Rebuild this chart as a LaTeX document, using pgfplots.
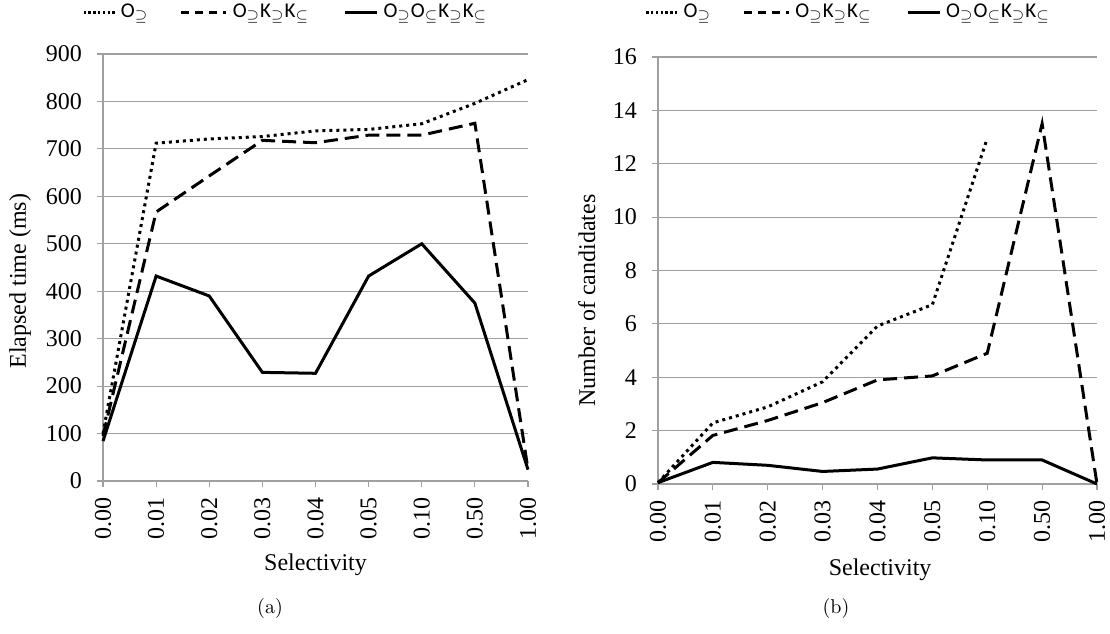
\documentclass[border=0pt]{standalone}
\usepackage{pgfplots}
\pgfplotsset{compat=1.18}
\usepackage{pgfplotstable}
\usepackage{fontspec}
\newfontfamily\tnr{Liberation Serif}
\newfontfamily\calib{Carlito}
\definecolor{gridgray}{HTML}{A0A0A0}

\pgfplotstableread{
x t1 t2 t3
0 100 95 84
1 712 567 432
2 721 643 390
3 726 718 229
4 738 713 227
5 741 729 432
6 753 729 500
7 796 754 375
8 846 24 24
}\timedata

\pgfplotstableread{
x c1
0 0.05
1 2.29
2 2.89
3 3.83
4 5.92
5 6.72
6 12.95
}\candA
\pgfplotstableread{
x c2 c3
0 0.05 0.05
1 1.82 0.81
2 2.38 0.70
3 3.05 0.47
4 3.90 0.56
5 4.05 0.98
6 4.90 0.90
7 13.50 0.90
8 0.00 0.00
}\candB

\pgfplotsset{
  excel/.style={
    scale only axis,
    axis lines*=left,
    axis line style={draw=gridgray, line width=0.6pt},
    tick style={draw=gridgray, line width=0.6pt},
    tick align=outside,
    major tick length=3pt,
    xmin=0, xmax=8,
    xtick={0,...,8},
    xticklabels={0.00,0.01,0.02,0.03,0.04,0.05,0.10,0.50,1.00},
    x tick label style={rotate=90, anchor=east, font=\tnr\fontsize{12}{12}\selectfont},
    y tick label style={font=\tnr\fontsize{12}{12}\selectfont},
    xticklabel shift=1.5pt,
    yticklabel shift=4pt,
    /pgf/number format/assume math mode=true,
    ymajorgrids,
    grid style={draw=gridgray, line width=0.6pt},
    clip=false,
    label style={font=\tnr\fontsize{12}{14}\selectfont},
    legend cell align=left,
    legend columns=3,
    legend style={draw=none, fill=none, inner sep=0pt, outer sep=0pt,
      font=\calib\fontsize{10.5}{12}\selectfont,
      nodes={inner sep=0pt},
      /tikz/every odd column/.append style={column sep=2.5pt}},
  },
  dotsty/.style={black, line width=1.5pt, dash pattern=on 1.5pt off 2pt,
    legend image code/.code={\draw[black, line width=1.4pt, dash pattern=on 1.2pt off 1.2pt] (0pt,0pt) -- (15.5pt,0pt);}},
  dashsty/.style={black, line width=1.5pt, dash pattern=on 7pt off 3.5pt,
    legend image code/.code={\draw[black, line width=1.4pt, dash pattern=on 4pt off 3pt] (0pt,0pt) -- (22.5pt,0pt);}},
  solsty/.style={black, line width=1.5pt,
    legend image code/.code={\draw[black, line width=1.4pt] (0pt,0pt) -- (16pt,0pt);}},
}

\begin{document}
\begin{tikzpicture}
\useasboundingbox (0,0) rectangle (555pt,316.5pt);

\begin{axis}[excel,
  at={(51.5pt,76pt)}, anchor=south west,
  width=212.5pt, height=213.5pt,
  ymin=0, ymax=900, ytick={0,100,...,900},
  xlabel={Selectivity},
  ylabel={Elapsed time (ms)},
  xlabel style={at={(axis description cs:0.5,-0.197)}, anchor=center},
  ylabel style={at={(axis description cs:-0.195,0.468)}, anchor=center},
  legend style={at={(axis description cs:-0.049,1.098)}, anchor=west},
]
\addplot[dotsty] table[x=x, y=t1] {\timedata};
\addlegendentry{\makebox[29.5pt][l]{O$_{\supseteq}$}}
\addplot[dashsty] table[x=x, y=t2] {\timedata};
\addlegendentry{\makebox[55.5pt][l]{O$_{\supseteq}$K$_{\supseteq}$K$_{\subseteq}$}}
\addplot[solsty] table[x=x, y=t3] {\timedata};
\addlegendentry{O$_{\supseteq}$O$_{\subseteq}$K$_{\supseteq}$K$_{\subseteq}$}
\end{axis}

\begin{axis}[excel,
  at={(329pt,74.5pt)}, anchor=south west,
  width=219.5pt, height=213.5pt,
  ymin=0, ymax=16, ytick={0,2,...,16},
  xlabel={Selectivity},
  ylabel={Number of candidates},
  xlabel style={at={(axis description cs:0.506,-0.201)}, anchor=center},
  ylabel style={at={(axis description cs:-0.162,0.43)}, anchor=center},
  legend style={at={(axis description cs:-0.030,1.105)}, anchor=west},
]
\addplot[dotsty] table[x=x, y=c1] {\candA};
\addlegendentry{\makebox[29.5pt][l]{O$_{\supseteq}$}}
\addplot[dashsty] table[x=x, y=c2] {\candB};
\addlegendentry{\makebox[55.5pt][l]{O$_{\supseteq}$K$_{\supseteq}$K$_{\subseteq}$}}
\addplot[solsty] table[x=x, y=c3] {\candB};
\addlegendentry{O$_{\supseteq}$O$_{\subseteq}$K$_{\supseteq}$K$_{\subseteq}$}
\end{axis}

\node[font=\fontsize{10}{12}\selectfont] at (135pt,12.5pt) {(a)};
\node[font=\fontsize{10}{12}\selectfont] at (418pt,12.5pt) {(b)};
\end{tikzpicture}
\end{document}
